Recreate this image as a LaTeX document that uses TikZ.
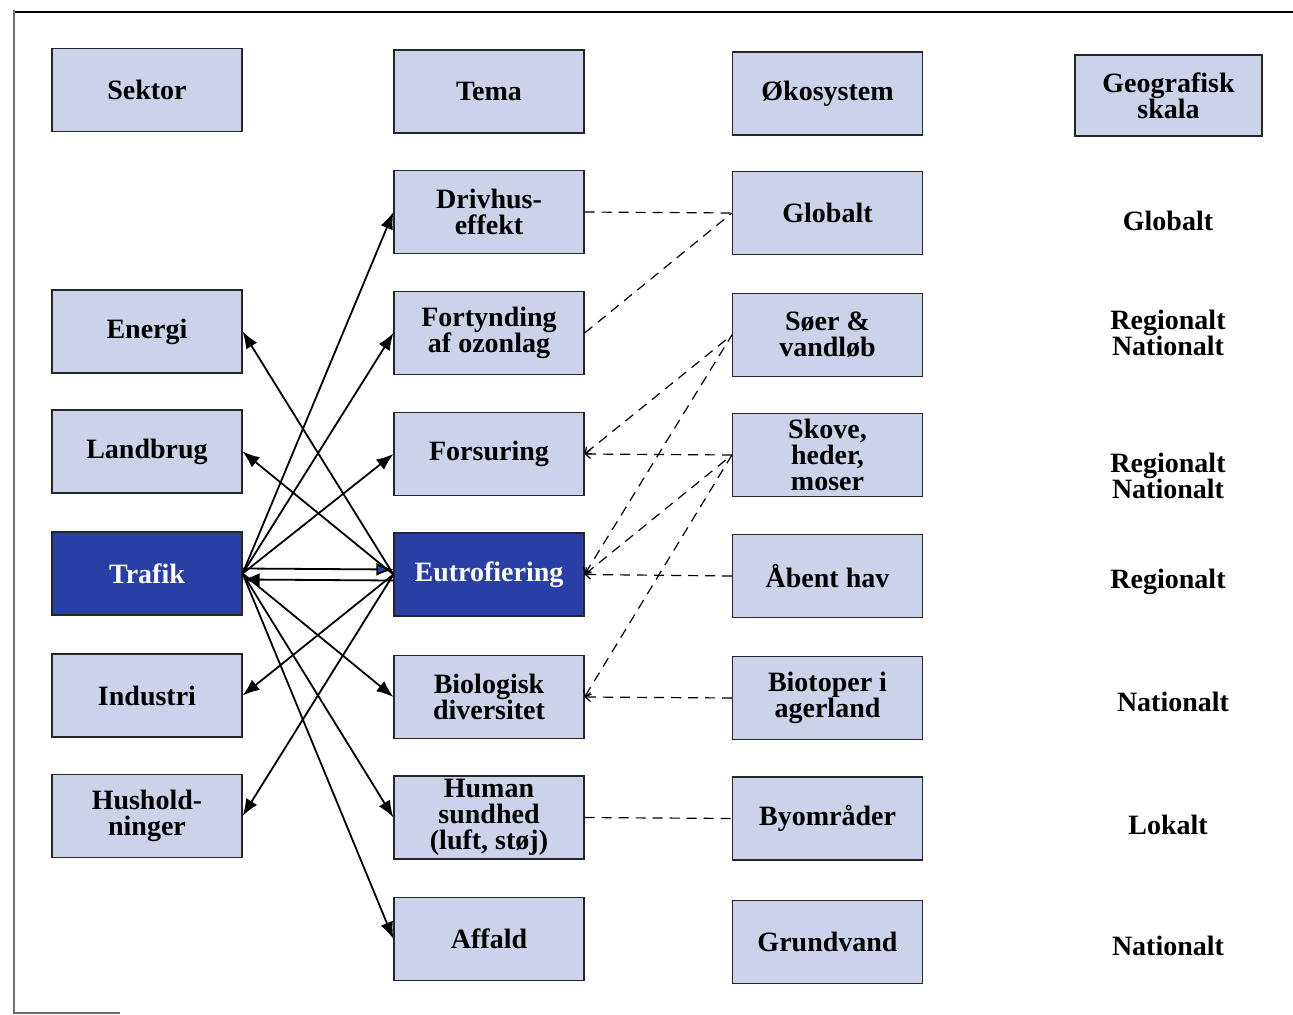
\documentclass[tikz,border=0pt]{standalone}
\usepackage{fontspec}
\setmainfont{Liberation Serif}
\usetikzlibrary{arrows.meta}
\definecolor{boxfill}{RGB}{203,210,233}
\definecolor{darkfill}{RGB}{40,64,165}
\definecolor{framegray}{RGB}{110,110,110}

\begin{document}
\begin{tikzpicture}[x=0.5pt,y=-0.5pt,
  every node/.style={font=\bfseries\fontsize{14}{13}\selectfont, align=center},
  box/.style={draw=black!85, line width=0.6pt, fill=boxfill, minimum width=95pt, minimum height=41.5pt, inner sep=1pt},
  hbox/.style={box, fill=darkfill, text=white},
  flow/.style={line width=0.9pt, -{Latex[length=8.5pt,width=6.5pt]}},
  link/.style={line width=0.6pt, dash pattern=on 5pt off 3.5pt},
  rlink/.style={link, {Straight Barb[length=2.5pt,width=4.5pt]}-}]
\useasboundingbox (0,0) rectangle (1293,1015);

% frame
\draw [line width=0.8pt] (14,12) -- (1293,12);
\draw [framegray, line width=0.8pt] (14,10) -- (14,1013) -- (120,1013);

% Sektor column
\node [box] (sektor) at (147,90) {Sektor};
\node [box] (energi) at (147,331.5) {Energi};
\node [box] (landbrug) at (147,451.5) {Landbrug};
\node [hbox] (trafik) at (147,573.5) {Trafik};
\node [box] (industri) at (147,695.5) {Industri};
\node [box] (hushold) at (147,816) {Hushold-\\ninger};

% Tema column
\node [box] (tema) at (489,91.5) {Tema};
\node [box] (drivhus) at (489,212) {Drivhus-\\effekt};
\node [box] (ozon) at (489,333) {Fortynding\\af ozonlag};
\node [box] (forsuring) at (489,454) {Forsuring};
\node [hbox] (eutro) at (489,574.5) {Eutrofiering};
\node [box] (biodiv) at (489,697) {Biologisk\\diversitet};
\node [box] (human) at (489,817.5) {Human\\sundhed\\(luft, støj)};
\node [box] (affald) at (489,939) {Affald};

% Økosystem column
\node [box] (oko) at (827.5,93.5) {Økosystem};
\node [box] (globalt) at (827.5,213) {Globalt};
\node [box] (soer) at (827.5,335) {Søer \&\\vandløb};
\node [box] (skove) at (827.5,455) {Skove,\\heder,\\moser};
\node [box] (hav) at (827.5,576) {Åbent hav};
\node [box] (biotop) at (827.5,698) {Biotoper i\\agerland};
\node [box] (by) at (827.5,818.5) {Byområder};
\node [box] (grund) at (827.5,942) {Grundvand};

% Geografisk skala column
\node [box, minimum width=93.5pt, minimum height=40.5pt] (skala) at (1168.5,95.5) {Geografisk\\skala};
\node (g1) at (1168,221) {Globalt};
\node (g2) at (1168,333) {Regionalt\\Nationalt};
\node (g3) at (1168,476) {Regionalt\\Nationalt};
\node (g4) at (1168,582) {Regionalt};
\node (g5) at (1173,702) {Nationalt};
\node (g6) at (1168,825) {Lokalt};
\node (g7) at (1168,946) {Nationalt};

% Trafik -> tema
\draw [flow] (trafik.east) -- (drivhus.west);
\draw [flow] (trafik.east) -- (ozon.west);
\draw [flow] (trafik.east) -- (forsuring.west);
\draw [flow] (trafik.east) -- (biodiv.west);
\draw [flow] (trafik.east) -- (human.west);
\draw [flow] (trafik.east) -- (affald.west);
\draw [line width=0.9pt, -{Latex[length=8.5pt,width=6.5pt,fill=darkfill]}] ([yshift=2.5pt]trafik.east) -- ([yshift=2.5pt]eutro.west);
\draw [flow] ([yshift=-3pt]eutro.west) -- ([yshift=-3pt]trafik.east);

% Eutrofiering -> sektor
\draw [flow] (eutro.west) -- (energi.east);
\draw [flow] (eutro.west) -- (landbrug.east);
\draw [flow] (eutro.west) -- (industri.east);
\draw [flow] (eutro.west) -- (hushold.east);

% tema -- økosystem
\draw [link] (drivhus.east) -- (globalt.west);
\draw [link] (ozon.east) -- (globalt.west);
\draw [rlink] (forsuring.east) -- (soer.west);
\draw [rlink] (forsuring.east) -- (skove.west);
\draw [rlink] (eutro.east) -- (soer.west);
\draw [rlink] (eutro.east) -- (skove.west);
\draw [rlink] (eutro.east) -- (hav.west);
\draw [rlink] (biodiv.east) -- (skove.west);
\draw [rlink] (biodiv.east) -- (biotop.west);
\draw [link] (human.east) -- (by.west);

\end{tikzpicture}
\end{document}
